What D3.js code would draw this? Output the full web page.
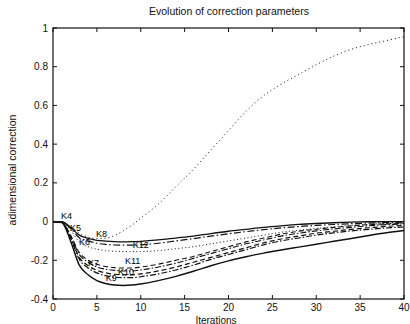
<!DOCTYPE html>
<html>
<head>
<meta charset="utf-8">
<script src="https://cdn.jsdelivr.net/npm/d3@7"></script>
<style>
  body { margin: 0; background: #fff; }
  svg { display: block; font-family: "Liberation Sans", Arial, sans-serif; }
</style>
</head>
<body>
<div id="chart"></div>
<script>
const ITERS = [0, 1, 2, 3, 4, 5, 6, 7, 8, 9, 10, 12, 14, 16, 18, 20, 22, 24, 26, 28, 30, 32, 34, 36, 38, 40]

const K4  = [0, -0.005, -0.1, -0.225, -0.275, -0.305, -0.32, -0.328, -0.33, -0.328, -0.322, -0.305, -0.283, -0.257, -0.228, -0.203, -0.182, -0.163, -0.147, -0.132, -0.117, -0.102, -0.087, -0.072, -0.058, -0.046]
const K5  = [0, -0.002, -0.045, -0.105, -0.13, -0.143, -0.15, -0.153, -0.155, -0.155, -0.155, -0.15, -0.14, -0.13, -0.115, -0.1, -0.085, -0.07, -0.055, -0.045, -0.035, -0.027, -0.02, -0.014, -0.01, -0.008]
const K6  = [0, -0.001, -0.03, -0.07, -0.087, -0.097, -0.101, -0.104, -0.105, -0.104, -0.102, -0.095, -0.085, -0.075, -0.062, -0.05, -0.04, -0.03, -0.022, -0.015, -0.01, -0.006, -0.003, -0.001, 0, 0]
const K7  = [0, -0.003, -0.07, -0.16, -0.2, -0.22, -0.232, -0.238, -0.24, -0.24, -0.235, -0.22, -0.2, -0.18, -0.155, -0.13, -0.105, -0.085, -0.065, -0.05, -0.04, -0.03, -0.022, -0.016, -0.012, -0.01]
const K8  = [0, -0.001, -0.03, -0.06, -0.08, -0.088, -0.086, -0.072, -0.048, -0.018, 0.018, 0.09, 0.18, 0.27, 0.37, 0.47, 0.57, 0.65, 0.71, 0.76, 0.81, 0.855, 0.89, 0.915, 0.935, 0.955]
const K9  = [0, -0.004, -0.085, -0.195, -0.24, -0.265, -0.28, -0.287, -0.29, -0.29, -0.285, -0.27, -0.25, -0.225, -0.195, -0.17, -0.145, -0.12, -0.1, -0.085, -0.07, -0.058, -0.048, -0.04, -0.033, -0.028]
const K10 = [0, -0.004, -0.08, -0.185, -0.228, -0.252, -0.265, -0.272, -0.275, -0.275, -0.27, -0.255, -0.235, -0.21, -0.185, -0.16, -0.135, -0.11, -0.09, -0.075, -0.06, -0.05, -0.04, -0.032, -0.025, -0.02]
const K11 = [0, -0.003, -0.075, -0.17, -0.21, -0.235, -0.246, -0.252, -0.255, -0.255, -0.25, -0.235, -0.215, -0.19, -0.165, -0.14, -0.115, -0.095, -0.075, -0.06, -0.048, -0.038, -0.03, -0.022, -0.016, -0.012]
const K12 = [0, -0.002, -0.035, -0.083, -0.1, -0.112, -0.118, -0.121, -0.122, -0.122, -0.12, -0.112, -0.1, -0.088, -0.075, -0.063, -0.052, -0.042, -0.033, -0.026, -0.02, -0.015, -0.011, -0.008, -0.005, -0.003]

const SERIES_NAMES = ["K4", "K5", "K6", "K7", "K8", "K9", "K10", "K11", "K12"]
const SERIES_VALUES = [K4, K5, K6, K7, K8, K9, K10, K11, K12]

// where each curve name is written, in data units (iteration, value)
const LABEL_X = [0.9, 1.95, 2.95, 4.0, 4.9, 6.0, 7.4, 8.2, 9.1]
const LABEL_Y = [0.013, -0.05, -0.12, -0.23, -0.08, -0.306, -0.278, -0.22, -0.135]

const X_TICKS = [0, 5, 10, 15, 20, 25, 30, 35, 40]
const Y_TICKS = [-0.4, -0.2, 0, 0.2, 0.4, 0.6, 0.8, 1]

const width = 410
const height = 324
const margin = { top: 28, right: 6, bottom: 25, left: 53 }

const x = d3.scaleLinear().domain([0, 40]).range([margin.left, width - margin.right])
const y = d3.scaleLinear().domain([-0.4, 1]).range([height - margin.bottom, margin.top])

const dashFor = {
  K4: null, K5: "1,2.5", K6: null, K7: "5,3",
  K8: "1,3", K9: "6,2,1.5,2", K10: "5,3", K11: "6,2,1.5,2", K12: "7,2.5,1.5,2.5"
}
const widthFor = { K4: 1.5, K5: 1, K6: 1.3, K7: 1.1, K8: 1, K9: 1.2, K10: 1.2, K11: 1.1, K12: 1.2 }

const svg = d3.select("#chart")
  .append("svg")
  .attr("width", width)
  .attr("height", height)

// Title
svg.append("text")
  .attr("x", 229)
  .attr("y", 15)
  .attr("text-anchor", "middle")
  .attr("font-size", "10.5px")
  .attr("fill", "#111")
  .text("Evolution of correction parameters")

// Curves
const line = d3.line()
  .x((_, i) => x(ITERS[i]))
  .y(d => y(d))
  .curve(d3.curveMonotoneX)

SERIES_VALUES.forEach((vals, k) => {
  const name = SERIES_NAMES[k]
  svg.append("path")
    .attr("d", line(vals))
    .attr("fill", "none")
    .attr("stroke", "#111")
    .attr("stroke-width", widthFor[name])
    .attr("stroke-dasharray", dashFor[name])
})

// Curve names
svg.selectAll(".k-label")
  .data(SERIES_NAMES)
  .enter()
  .append("text")
  .attr("class", "k-label")
  .attr("x", (_, i) => x(LABEL_X[i]))
  .attr("y", (_, i) => y(LABEL_Y[i]))
  .attr("font-size", "9px")
  .attr("fill", "#000")
  .text(d => d)

// Frame with inward ticks on all sides (matlab style)
const tickLen = 4
const frame = svg.append("g").attr("stroke", "#111").attr("fill", "none")
frame.append("rect")
  .attr("x", x(0))
  .attr("y", y(1))
  .attr("width", x(40) - x(0))
  .attr("height", y(-0.4) - y(1))
  .attr("stroke-width", 1.2)

X_TICKS.forEach(t => {
  frame.append("line").attr("x1", x(t)).attr("x2", x(t)).attr("y1", y(-0.4)).attr("y2", y(-0.4) - tickLen)
  frame.append("line").attr("x1", x(t)).attr("x2", x(t)).attr("y1", y(1)).attr("y2", y(1) + tickLen)
})
Y_TICKS.forEach(t => {
  frame.append("line").attr("x1", x(0)).attr("x2", x(0) + tickLen).attr("y1", y(t)).attr("y2", y(t))
  frame.append("line").attr("x1", x(40)).attr("x2", x(40) - tickLen).attr("y1", y(t)).attr("y2", y(t))
})

// Tick labels
svg.selectAll(".x-tick")
  .data(X_TICKS)
  .enter()
  .append("text")
  .attr("class", "x-tick")
  .attr("x", d => x(d))
  .attr("y", y(-0.4) + 12)
  .attr("text-anchor", "middle")
  .attr("font-size", "10px")
  .attr("fill", "#111")
  .text(d => d)

svg.selectAll(".y-tick")
  .data(Y_TICKS)
  .enter()
  .append("text")
  .attr("class", "y-tick")
  .attr("x", x(0) - 5)
  .attr("y", d => y(d) + 3.5)
  .attr("text-anchor", "end")
  .attr("font-size", "10px")
  .attr("fill", "#111")
  .text(d => d < 0 ? "-" + Math.abs(d) : d)

// Axis titles
svg.append("text")
  .attr("x", 216)
  .attr("y", 323.5)
  .attr("text-anchor", "middle")
  .attr("font-size", "10px")
  .attr("fill", "#111")
  .text("Iterations")

svg.append("text")
  .attr("transform", "translate(16,170) rotate(-90)")
  .attr("text-anchor", "middle")
  .attr("font-size", "10.5px")
  .attr("fill", "#111")
  .text("adimensional correction")
</script>
</body>
</html>
